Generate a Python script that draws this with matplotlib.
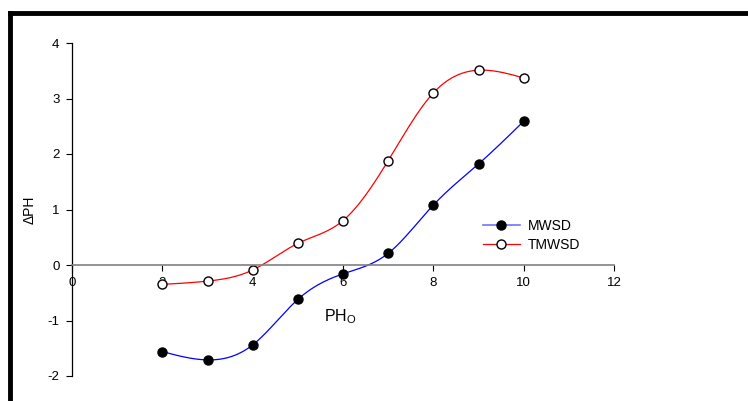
import numpy as np
import matplotlib
matplotlib.use("Agg")
import matplotlib.pyplot as plt
from matplotlib.lines import Line2D

plt.rcParams["font.family"] = ["Liberation Sans", "DejaVu Sans"]

ph0 = [2, 3, 4, 5, 6, 7, 8, 9, 10]
mwsd = [-1.56, -1.71, -1.44, -0.62, -0.16, 0.21, 1.08, 1.82, 2.59]
tmwsd = [-0.35, -0.29, -0.09, 0.39, 0.80, 1.88, 3.10, 3.51, 3.37]
xticks = [0, 2, 4, 6, 8, 10, 12]
yticks = [-2, -1, 0, 1, 2, 3, 4]


def spline(x, y, n=200):
    # natural cubic spline, just for drawing the smooth line
    x, y = np.asarray(x, float), np.asarray(y, float)
    k = len(x)
    h = np.diff(x)
    A = np.zeros((k, k))
    b = np.zeros(k)
    A[0, 0] = A[-1, -1] = 1
    for i in range(1, k - 1):
        A[i, i - 1] = h[i - 1]
        A[i, i] = 2 * (h[i - 1] + h[i])
        A[i, i + 1] = h[i]
        b[i] = 3 * ((y[i + 1] - y[i]) / h[i] - (y[i] - y[i - 1]) / h[i - 1])
    c = np.linalg.solve(A, b)
    xs = np.linspace(x[0], x[-1], n)
    idx = np.clip(np.searchsorted(x, xs) - 1, 0, k - 2)
    dx = xs - x[idx]
    bb = (y[idx + 1] - y[idx]) / h[idx] - h[idx] * (2 * c[idx] + c[idx + 1]) / 3
    dd = (c[idx + 1] - c[idx]) / (3 * h[idx])
    return xs, y[idx] + bb * dx + c[idx] * dx ** 2 + dd * dx ** 3


fig = plt.figure(figsize=(7.48, 4.01), dpi=100)
ax = fig.add_axes([72 / 748, 25 / 401, 542 / 748, 333 / 401])

xs, ys = spline(ph0, mwsd)
ax.plot(xs, ys, color="blue", lw=0.9)
xs, ys = spline(ph0, tmwsd)
ax.plot(xs, ys, color="red", lw=0.9)
ax.plot(ph0, mwsd, "o", color="black", ms=6.5, mec="black")
ax.plot(ph0, tmwsd, "o", mfc="white", mec="black", ms=6.5, mew=1)

ax.set_xlim(0, 12)
ax.set_ylim(-2, 4)
ax.set_xticks(xticks)
ax.set_yticks(yticks)
ax.set_xticklabels([str(t) for t in xticks])
ax.set_yticklabels([str(t) for t in yticks])
for s in ["top", "right"]:
    ax.spines[s].set_visible(False)
ax.spines["bottom"].set_position(("data", 0))
ax.spines["bottom"].set_color("gray")
ax.spines["bottom"].set_linewidth(1.2)
ax.spines["left"].set_linewidth(0.9)
ax.tick_params(axis="x", direction="out", length=4, width=0.8, colors="black", labelsize=9.5, pad=5)
ax.tick_params(axis="y", direction="out", length=4, width=0.8, labelsize=9.5, pad=5)
ax.patch.set_visible(False)

ax.set_ylabel("\u0394PH", fontsize=10, labelpad=8)
ax.text(5.95, -0.93, "PH$_\\mathregular{O}$", fontsize=11.5, ha="center", va="center")

h1 = Line2D([], [], color=(0.45, 0.45, 1.0), marker="o", mfc="black", mec="black", ms=6.5, lw=1.2)
h2 = Line2D([], [], color="red", marker="o", mfc="white", mec="black", ms=6.5, lw=0.9)
ax.legend([h1, h2], ["MWSD", "TMWSD"], loc="upper left", bbox_to_anchor=(0.736, 0.508),
          frameon=False, fontsize=10, handlelength=2.6, labelspacing=0.3, handletextpad=0.6)

# thick page frame
fig.add_artist(Line2D([10 / 748, 1], [1 - 13 / 401, 1 - 13 / 401], color="black", lw=3.5))
fig.add_artist(Line2D([10 / 748, 10 / 748], [0, 1 - 13 / 401], color="black", lw=3.5))

fig.savefig("out.png", dpi=100)
